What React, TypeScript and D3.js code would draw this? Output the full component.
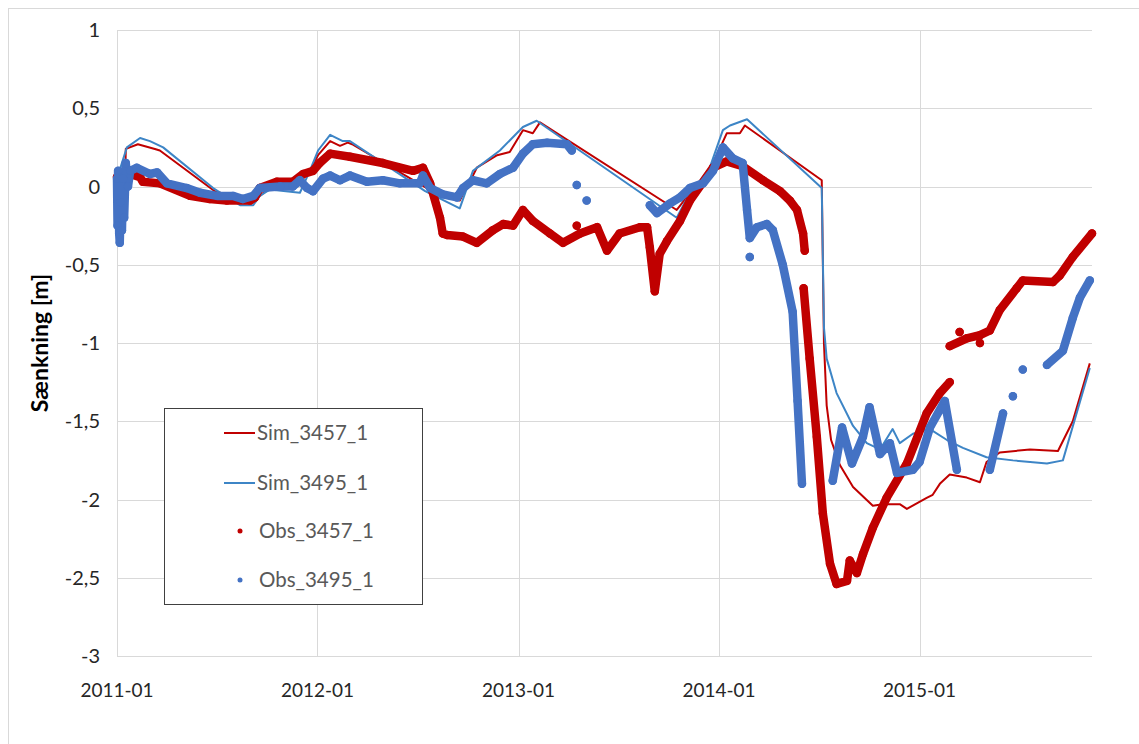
import React, { useEffect, useRef } from "react";
import * as d3 from "d3";

// akser
const xTicks = ["2011-01", "2012-01", "2013-01", "2014-01", "2015-01"];
const yTicks = [1, 0.5, 0, -0.5, -1, -1.5, -2, -2.5, -3];
const xEnd = "2015-11-11";

// simuleret saenkning [dato, m]
const sim3457: [string, number][] = [
  ["2011-01-01", 0.05], ["2011-01-16", 0.07], ["2011-01-17", 0.24], ["2011-02-08", 0.27],
  ["2011-03-11", 0.24], ["2011-03-20", 0.23], ["2011-06-28", -0.03], ["2011-09-06", -0.1],
  ["2011-09-18", -0.06], ["2011-10-06", -0.01], ["2011-11-12", 0.02], ["2011-11-30", 0.03],
  ["2011-12-18", 0.1], ["2012-01-02", 0.2], ["2012-01-24", 0.29], ["2012-02-11", 0.26],
  ["2012-02-25", 0.28], ["2012-03-04", 0.27], ["2012-07-18", -0.01], ["2012-09-16", -0.09],
  ["2012-10-10", 0.07], ["2012-10-17", 0.12], ["2012-11-23", 0.2], ["2012-12-16", 0.22],
  ["2013-01-09", 0.36], ["2013-01-27", 0.34], ["2013-02-09", 0.41], ["2013-10-16", -0.15],
  ["2013-11-03", -0.07], ["2013-12-15", 0.1], ["2014-01-15", 0.34], ["2014-02-08", 0.34],
  ["2014-02-17", 0.39], ["2014-07-07", 0.04], ["2014-07-11", -1.0], ["2014-07-16", -1.4],
  ["2014-07-24", -1.62], ["2014-08-09", -1.78], ["2014-09-02", -1.92], ["2014-10-08", -2.04],
  ["2014-10-26", -2.03], ["2014-11-26", -2.03], ["2014-12-09", -2.06], ["2015-01-14", -1.99],
  ["2015-01-25", -1.97], ["2015-02-07", -1.9], ["2015-02-25", -1.84], ["2015-03-28", -1.86],
  ["2015-04-21", -1.89], ["2015-05-03", -1.76], ["2015-05-27", -1.7], ["2015-07-21", -1.68],
  ["2015-09-10", -1.69], ["2015-10-07", -1.5], ["2015-11-07", -1.13],
];

const sim3495: [string, number][] = [
  ["2011-01-01", 0.05], ["2011-01-19", 0.25], ["2011-02-12", 0.31], ["2011-03-02", 0.29],
  ["2011-03-26", 0.25], ["2011-06-25", -0.01], ["2011-08-13", -0.12], ["2011-09-06", -0.12],
  ["2011-09-18", -0.06], ["2011-10-06", -0.02], ["2011-11-30", -0.04], ["2011-12-18", 0.1],
  ["2012-01-02", 0.23], ["2012-01-24", 0.33], ["2012-02-16", 0.29], ["2012-02-29", 0.29],
  ["2012-07-15", -0.03], ["2012-09-16", -0.14], ["2012-10-10", 0.1], ["2012-11-28", 0.23],
  ["2013-01-09", 0.38], ["2013-02-03", 0.42], ["2013-10-16", -0.2], ["2013-11-03", -0.08],
  ["2013-12-15", 0.12], ["2014-01-08", 0.36], ["2014-01-21", 0.39], ["2014-02-21", 0.43],
  ["2014-07-07", -0.01], ["2014-07-11", -0.9], ["2014-07-16", -1.1], ["2014-08-03", -1.32],
  ["2014-09-02", -1.53], ["2014-09-27", -1.64], ["2014-10-21", -1.68], ["2014-11-13", -1.55],
  ["2014-11-26", -1.64], ["2014-12-20", -1.58], ["2015-01-20", -1.55], ["2015-02-20", -1.62],
  ["2015-03-21", -1.67], ["2015-05-03", -1.73], ["2015-06-20", -1.75], ["2015-08-21", -1.77],
  ["2015-09-19", -1.75], ["2015-11-07", -1.16],
];

// observeret saenkning, null = hul i maalingerne
const obs3457: ([string, number] | null)[] = [
  ["2011-01-01", 0.06], ["2011-01-16", 0.04], ["2011-01-25", 0.08], ["2011-02-12", 0.06],
  ["2011-02-17", 0.03], ["2011-03-20", 0.02], ["2011-05-14", -0.06], ["2011-06-19", -0.08],
  ["2011-07-20", -0.09], ["2011-08-31", -0.09], ["2011-09-09", -0.07], ["2011-09-18", -0.01],
  ["2011-10-19", 0.03], ["2011-11-17", 0.03], ["2011-12-06", 0.08], ["2011-12-24", 0.1],
  ["2012-01-05", 0.15], ["2012-01-24", 0.21], ["2012-02-29", 0.19], ["2012-04-29", 0.15],
  ["2012-06-23", 0.1], ["2012-07-11", 0.12], ["2012-07-24", 0.02], ["2012-08-11", -0.2],
  ["2012-08-16", -0.3], ["2012-08-24", -0.31], ["2012-09-22", -0.32], ["2012-10-17", -0.36],
  ["2012-11-15", -0.28], ["2012-12-04", -0.24], ["2012-12-22", -0.25], ["2013-01-09", -0.15],
  ["2013-01-27", -0.22], ["2013-02-27", -0.3], ["2013-03-23", -0.36], ["2013-04-23", -0.3],
  ["2013-05-24", -0.26], ["2013-06-11", -0.41], ["2013-07-04", -0.3], ["2013-08-10", -0.26],
  ["2013-08-23", -0.26], ["2013-08-28", -0.39], ["2013-09-06", -0.67], ["2013-09-15", -0.43],
  ["2013-09-28", -0.35], ["2013-10-22", -0.22], ["2013-11-09", -0.09], ["2013-12-21", 0.12],
  ["2014-01-15", 0.16], ["2014-02-13", 0.13], ["2014-03-22", 0.04], ["2014-04-22", -0.03],
  ["2014-05-10", -0.09], ["2014-05-23", -0.15], ["2014-06-03", -0.3], ["2014-06-06", -0.41],
  null,
  ["2013-04-17", -0.25],
  null,
  ["2014-06-04", -0.65], ["2014-06-15", -1.1], ["2014-06-28", -1.6], ["2014-07-09", -2.09],
  ["2014-07-22", -2.41], ["2014-08-03", -2.54], ["2014-08-22", -2.52], ["2014-08-27", -2.39],
  ["2014-09-09", -2.47], ["2014-09-20", -2.35], ["2014-10-08", -2.18], ["2014-11-02", -1.99],
  ["2014-12-09", -1.77], ["2015-01-14", -1.45], ["2015-02-07", -1.32], ["2015-02-25", -1.25],
  null,
  ["2015-02-25", -1.02], ["2015-03-28", -0.97], ["2015-04-21", -0.95], ["2015-05-09", -0.92],
  ["2015-05-27", -0.79], ["2015-06-27", -0.65], ["2015-07-08", -0.6], ["2015-09-01", -0.61],
  ["2015-09-13", -0.57], ["2015-10-07", -0.45], ["2015-11-11", -0.3],
  null,
  ["2015-03-15", -0.93],
  null,
  ["2015-04-21", -1.0],
];

const obs3495: ([string, number] | null)[] = [
  ["2011-01-01", 0.05], ["2011-01-02", -0.25], ["2011-01-03", 0.1], ["2011-01-05", -0.3],
  ["2011-01-06", -0.36], ["2011-01-08", -0.1], ["2011-01-10", -0.28], ["2011-01-12", 0.05],
  ["2011-01-14", -0.2], ["2011-01-17", 0.15], ["2011-01-21", 0.0], ["2011-01-25", 0.1],
  ["2011-02-06", 0.12], ["2011-03-02", 0.08], ["2011-03-15", 0.09], ["2011-04-02", 0.02],
  ["2011-05-08", -0.01], ["2011-06-01", -0.04], ["2011-07-02", -0.06], ["2011-07-31", -0.06],
  ["2011-08-18", -0.08], ["2011-09-06", -0.06], ["2011-09-18", -0.01], ["2011-10-25", 0.0],
  ["2011-11-17", 0.0], ["2011-11-30", 0.04], ["2011-12-13", -0.01], ["2011-12-24", -0.03],
  ["2012-01-11", 0.05], ["2012-01-24", 0.07], ["2012-02-11", 0.04], ["2012-02-29", 0.07],
  ["2012-03-31", 0.03], ["2012-04-29", 0.04], ["2012-05-30", 0.02], ["2012-07-05", 0.02],
  ["2012-07-11", 0.07], ["2012-07-24", -0.01], ["2012-08-16", -0.05], ["2012-09-11", -0.07],
  ["2012-09-22", -0.01], ["2012-10-10", 0.04], ["2012-11-04", 0.02], ["2012-11-28", 0.08],
  ["2012-12-22", 0.12], ["2013-01-09", 0.21], ["2013-01-27", 0.27], ["2013-02-22", 0.28],
  ["2013-03-30", 0.27], ["2013-04-08", 0.23],
  null,
  ["2013-04-17", 0.01],
  null,
  ["2013-05-05", -0.09],
  null,
  ["2013-08-28", -0.12], ["2013-09-10", -0.17], ["2013-10-03", -0.11], ["2013-10-22", -0.07],
  ["2013-11-09", -0.01], ["2013-12-03", 0.02], ["2013-12-21", 0.1], ["2014-01-08", 0.25],
  ["2014-01-26", 0.18], ["2014-02-13", 0.15], ["2014-02-21", -0.15], ["2014-02-26", -0.33],
  ["2014-03-11", -0.26], ["2014-03-29", -0.24], ["2014-04-09", -0.28], ["2014-04-27", -0.5],
  ["2014-05-15", -0.8], ["2014-05-24", -1.37], ["2014-06-01", -1.9],
  null,
  ["2014-02-26", -0.45],
  null,
  ["2014-07-27", -1.88], ["2014-08-13", -1.54], ["2014-08-31", -1.77], ["2014-09-20", -1.6],
  ["2014-10-02", -1.41], ["2014-10-21", -1.71], ["2014-11-08", -1.64], ["2014-11-21", -1.83],
  ["2014-12-20", -1.81], ["2015-01-01", -1.76], ["2015-01-20", -1.54], ["2015-02-16", -1.37],
  ["2015-03-10", -1.81],
  null,
  ["2015-05-09", -1.81], ["2015-06-02", -1.45],
  null,
  ["2015-06-20", -1.34],
  null,
  ["2015-07-08", -1.17],
  null,
  ["2015-08-21", -1.14], ["2015-09-19", -1.05], ["2015-10-07", -0.84], ["2015-10-20", -0.71],
  ["2015-11-07", -0.6],
];

const seriesNames = ["Sim_3457_1", "Sim_3495_1", "Obs_3457_1", "Obs_3495_1"];
const seriesColors = ["#C00000", "#3D85C6", "#C00000", "#4472C4"];

const W = 1139;
const H = 744;
const FONT = "Lato, 'Open Sans', sans-serif";

const App = () => {
  const ref = useRef<SVGSVGElement>(null);

  useEffect(() => {
    const svg = d3.select(ref.current);
    svg.selectAll("*").remove();

    const parse = d3.timeParse("%Y-%m-%d");
    const x = d3
      .scaleTime()
      .domain([parse("2011-01-01")!, parse(xEnd)!])
      .range([117, 1092]);
    const y = d3.scaleLinear().domain([-3, 1]).range([656, 30]);

    const fmt = d3.formatLocale({
      decimal: ",",
      thousands: ".",
      grouping: [3],
      currency: ["", " kr"],
      minus: "-",
    }).format("~g");

    // ramme om diagrammet
    svg
      .append("rect")
      .attr("x", 8.5)
      .attr("y", 8.5)
      .attr("width", W)
      .attr("height", H)
      .attr("fill", "#fff")
      .attr("stroke", "#d9d9d9");

    // gitter
    svg
      .append("g")
      .selectAll("line")
      .data(yTicks)
      .enter()
      .append("line")
      .attr("x1", x.range()[0])
      .attr("x2", x.range()[1])
      .attr("y1", (d) => Math.round(y(d)) + 0.5)
      .attr("y2", (d) => Math.round(y(d)) + 0.5)
      .attr("stroke", "#d9d9d9");

    const xDates = xTicks.map((t) => d3.timeParse("%Y-%m")(t)!);
    svg
      .append("g")
      .selectAll("line")
      .data(xDates)
      .enter()
      .append("line")
      .attr("x1", (d) => Math.round(x(d)) + 0.5)
      .attr("x2", (d) => Math.round(x(d)) + 0.5)
      .attr("y1", y(1))
      .attr("y2", y(-3))
      .attr("stroke", "#d9d9d9");

    // akse-tekster
    svg
      .append("g")
      .selectAll("text")
      .data(yTicks)
      .enter()
      .append("text")
      .attr("x", 100)
      .attr("y", (d) => y(d))
      .attr("dy", "0.35em")
      .attr("text-anchor", "end")
      .attr("font-family", FONT)
      .attr("font-size", 20)
      .attr("fill", "#262626")
      .text((d) => fmt(d));

    svg
      .append("g")
      .selectAll("text")
      .data(xDates)
      .enter()
      .append("text")
      .attr("x", (d) => x(d))
      .attr("y", 690)
      .attr("dy", "0.35em")
      .attr("text-anchor", "middle")
      .attr("font-family", FONT)
      .attr("font-size", 19)
      .attr("fill", "#262626")
      .text((d) => d3.timeFormat("%Y-%m")(d));

    svg
      .append("text")
      .attr("transform", `translate(40,${(y(1) + y(-3)) / 2}) rotate(-90)`)
      .attr("text-anchor", "middle")
      .attr("dy", "0.35em")
      .attr("font-family", FONT)
      .attr("font-size", 23)
      .attr("font-weight", "bold")
      .attr("fill", "#000")
      .text("Sænkning [m]");

    const line = d3
      .line<[string, number] | null>()
      .defined((d) => d !== null)
      .x((d) => x(parse(d![0])!))
      .y((d) => y(d![1]));

    // simulerede linjer
    [sim3457, sim3495].forEach((data, i) => {
      svg
        .append("path")
        .datum(data)
        .attr("d", line as any)
        .attr("fill", "none")
        .attr("stroke", seriesColors[i])
        .attr("stroke-width", 2)
        .attr("stroke-linejoin", "round");
    });

    // observationer (taette punkter)
    [obs3457, obs3495].forEach((data, i) => {
      const color = seriesColors[i + 2];
      svg
        .append("path")
        .datum(data)
        .attr("d", line as any)
        .attr("fill", "none")
        .attr("stroke", color)
        .attr("stroke-width", 8.5)
        .attr("stroke-linejoin", "round")
        .attr("stroke-linecap", "round");
      svg
        .append("g")
        .selectAll("circle")
        .data(data.filter((d) => d !== null) as [string, number][])
        .enter()
        .append("circle")
        .attr("cx", (d) => x(parse(d[0])!))
        .attr("cy", (d) => y(d[1]))
        .attr("r", 4.2)
        .attr("fill", color);
    });

    // signaturforklaring
    const leg = svg.append("g");
    leg
      .append("rect")
      .attr("x", 164.5)
      .attr("y", 408.5)
      .attr("width", 258)
      .attr("height", 196)
      .attr("fill", "#fff")
      .attr("stroke", "#404040");
    const rows = [433, 483, 531, 580];
    seriesNames.forEach((name, i) => {
      if (i < 2) {
        leg
          .append("line")
          .attr("x1", 224)
          .attr("x2", 255)
          .attr("y1", rows[i])
          .attr("y2", rows[i])
          .attr("stroke", seriesColors[i])
          .attr("stroke-width", 2);
      } else {
        leg
          .append("circle")
          .attr("cx", 240)
          .attr("cy", rows[i])
          .attr("r", 2.5)
          .attr("fill", seriesColors[i]);
      }
      leg
        .append("text")
        .attr("x", i < 2 ? 257 : 259)
        .attr("y", rows[i])
        .attr("dy", "0.35em")
        .attr("font-family", FONT)
        .attr("font-size", 20.5)
        .attr("fill", "#595959")
        .text(name);
    });
  }, []);

  return (
    <div style={{ position: "absolute", left: 0, top: 0, background: "#fff" }}>
      <svg ref={ref} width={W} height={H} style={{ display: "block" }} />
    </div>
  );
};

export default App;
